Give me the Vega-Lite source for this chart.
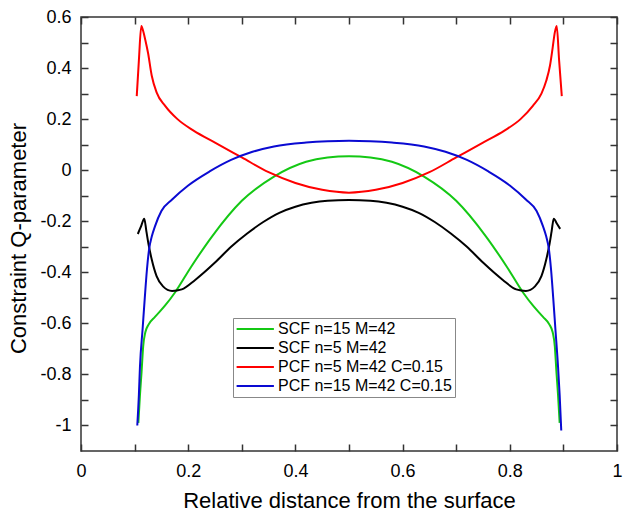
{
  "$schema": "https://vega.github.io/schema/vega-lite/v6.json",
  "width": 536,
  "height": 434,
  "autosize": {"type": "none"},
  "padding": {"left": 81, "top": 17, "right": 14, "bottom": 60},
  "background": "white",
  "config": {
    "font": "Liberation Sans",
    "view": {"stroke": "#333333", "strokeWidth": 1.5},
    "axis": {
      "grid": false,
      "domain": false,
      "ticks": true,
      "zindex": 1,
      "tickColor": "#333333",
      "tickWidth": 1.5,
      "tickSize": 7,
      "offset": -7,
      "labelFont": "Liberation Sans",
      "labelFontSize": 18,
      "labelColor": "black",
      "titleFont": "Liberation Sans",
      "titleFontSize": 22,
      "titleFontWeight": "normal",
      "titleColor": "black",
      "labelFlush": false,
      "labelOverlap": false
    }
  },
  "data": {
    "values": [
      {"s": "SCF n=15 M=42", "x": 0.107, "y": -0.99},
      {"s": "SCF n=15 M=42", "x": 0.110, "y": -0.88},
      {"s": "SCF n=15 M=42", "x": 0.113, "y": -0.79},
      {"s": "SCF n=15 M=42", "x": 0.116, "y": -0.69},
      {"s": "SCF n=15 M=42", "x": 0.120, "y": -0.635},
      {"s": "SCF n=15 M=42", "x": 0.126, "y": -0.605},
      {"s": "SCF n=15 M=42", "x": 0.138, "y": -0.575},
      {"s": "SCF n=15 M=42", "x": 0.157, "y": -0.53},
      {"s": "SCF n=15 M=42", "x": 0.175, "y": -0.48},
      {"s": "SCF n=15 M=42", "x": 0.205, "y": -0.38},
      {"s": "SCF n=15 M=42", "x": 0.245, "y": -0.258},
      {"s": "SCF n=15 M=42", "x": 0.300, "y": -0.12},
      {"s": "SCF n=15 M=42", "x": 0.360, "y": -0.025},
      {"s": "SCF n=15 M=42", "x": 0.420, "y": 0.033},
      {"s": "SCF n=15 M=42", "x": 0.460, "y": 0.05},
      {"s": "SCF n=15 M=42", "x": 0.500, "y": 0.055},
      {"s": "SCF n=15 M=42", "x": 0.540, "y": 0.05},
      {"s": "SCF n=15 M=42", "x": 0.580, "y": 0.033},
      {"s": "SCF n=15 M=42", "x": 0.640, "y": -0.025},
      {"s": "SCF n=15 M=42", "x": 0.700, "y": -0.12},
      {"s": "SCF n=15 M=42", "x": 0.755, "y": -0.258},
      {"s": "SCF n=15 M=42", "x": 0.795, "y": -0.38},
      {"s": "SCF n=15 M=42", "x": 0.825, "y": -0.48},
      {"s": "SCF n=15 M=42", "x": 0.843, "y": -0.53},
      {"s": "SCF n=15 M=42", "x": 0.862, "y": -0.575},
      {"s": "SCF n=15 M=42", "x": 0.874, "y": -0.605},
      {"s": "SCF n=15 M=42", "x": 0.880, "y": -0.635},
      {"s": "SCF n=15 M=42", "x": 0.884, "y": -0.69},
      {"s": "SCF n=15 M=42", "x": 0.887, "y": -0.79},
      {"s": "SCF n=15 M=42", "x": 0.890, "y": -0.88},
      {"s": "SCF n=15 M=42", "x": 0.893, "y": -0.99},

      {"s": "SCF n=5 M=42", "x": 0.106, "y": -0.25},
      {"s": "SCF n=5 M=42", "x": 0.112, "y": -0.22},
      {"s": "SCF n=5 M=42", "x": 0.118, "y": -0.19},
      {"s": "SCF n=5 M=42", "x": 0.122, "y": -0.24},
      {"s": "SCF n=5 M=42", "x": 0.126, "y": -0.29},
      {"s": "SCF n=5 M=42", "x": 0.132, "y": -0.35},
      {"s": "SCF n=5 M=42", "x": 0.141, "y": -0.415},
      {"s": "SCF n=5 M=42", "x": 0.153, "y": -0.455},
      {"s": "SCF n=5 M=42", "x": 0.170, "y": -0.473},
      {"s": "SCF n=5 M=42", "x": 0.188, "y": -0.467},
      {"s": "SCF n=5 M=42", "x": 0.213, "y": -0.43},
      {"s": "SCF n=5 M=42", "x": 0.250, "y": -0.362},
      {"s": "SCF n=5 M=42", "x": 0.280, "y": -0.30},
      {"s": "SCF n=5 M=42", "x": 0.310, "y": -0.248},
      {"s": "SCF n=5 M=42", "x": 0.340, "y": -0.203},
      {"s": "SCF n=5 M=42", "x": 0.370, "y": -0.167},
      {"s": "SCF n=5 M=42", "x": 0.400, "y": -0.143},
      {"s": "SCF n=5 M=42", "x": 0.430, "y": -0.128},
      {"s": "SCF n=5 M=42", "x": 0.460, "y": -0.12},
      {"s": "SCF n=5 M=42", "x": 0.500, "y": -0.117},
      {"s": "SCF n=5 M=42", "x": 0.540, "y": -0.12},
      {"s": "SCF n=5 M=42", "x": 0.570, "y": -0.128},
      {"s": "SCF n=5 M=42", "x": 0.600, "y": -0.143},
      {"s": "SCF n=5 M=42", "x": 0.630, "y": -0.167},
      {"s": "SCF n=5 M=42", "x": 0.660, "y": -0.203},
      {"s": "SCF n=5 M=42", "x": 0.690, "y": -0.248},
      {"s": "SCF n=5 M=42", "x": 0.720, "y": -0.30},
      {"s": "SCF n=5 M=42", "x": 0.750, "y": -0.362},
      {"s": "SCF n=5 M=42", "x": 0.787, "y": -0.43},
      {"s": "SCF n=5 M=42", "x": 0.812, "y": -0.467},
      {"s": "SCF n=5 M=42", "x": 0.830, "y": -0.473},
      {"s": "SCF n=5 M=42", "x": 0.847, "y": -0.455},
      {"s": "SCF n=5 M=42", "x": 0.859, "y": -0.415},
      {"s": "SCF n=5 M=42", "x": 0.868, "y": -0.35},
      {"s": "SCF n=5 M=42", "x": 0.874, "y": -0.29},
      {"s": "SCF n=5 M=42", "x": 0.878, "y": -0.24},
      {"s": "SCF n=5 M=42", "x": 0.882, "y": -0.19},
      {"s": "SCF n=5 M=42", "x": 0.888, "y": -0.21},
      {"s": "SCF n=5 M=42", "x": 0.894, "y": -0.23},

      {"s": "PCF n=5 M=42 C=0.15", "x": 0.104, "y": 0.29},
      {"s": "PCF n=5 M=42 C=0.15", "x": 0.108, "y": 0.43},
      {"s": "PCF n=5 M=42 C=0.15", "x": 0.1125, "y": 0.565},
      {"s": "PCF n=5 M=42 C=0.15", "x": 0.116, "y": 0.545},
      {"s": "PCF n=5 M=42 C=0.15", "x": 0.120, "y": 0.51},
      {"s": "PCF n=5 M=42 C=0.15", "x": 0.125, "y": 0.46},
      {"s": "PCF n=5 M=42 C=0.15", "x": 0.132, "y": 0.37},
      {"s": "PCF n=5 M=42 C=0.15", "x": 0.141, "y": 0.305},
      {"s": "PCF n=5 M=42 C=0.15", "x": 0.157, "y": 0.252},
      {"s": "PCF n=5 M=42 C=0.15", "x": 0.180, "y": 0.2},
      {"s": "PCF n=5 M=42 C=0.15", "x": 0.210, "y": 0.155},
      {"s": "PCF n=5 M=42 C=0.15", "x": 0.250, "y": 0.108},
      {"s": "PCF n=5 M=42 C=0.15", "x": 0.300, "y": 0.05},
      {"s": "PCF n=5 M=42 C=0.15", "x": 0.350, "y": -0.008},
      {"s": "PCF n=5 M=42 C=0.15", "x": 0.400, "y": -0.05},
      {"s": "PCF n=5 M=42 C=0.15", "x": 0.450, "y": -0.077},
      {"s": "PCF n=5 M=42 C=0.15", "x": 0.500, "y": -0.088},
      {"s": "PCF n=5 M=42 C=0.15", "x": 0.550, "y": -0.077},
      {"s": "PCF n=5 M=42 C=0.15", "x": 0.600, "y": -0.05},
      {"s": "PCF n=5 M=42 C=0.15", "x": 0.650, "y": -0.008},
      {"s": "PCF n=5 M=42 C=0.15", "x": 0.700, "y": 0.05},
      {"s": "PCF n=5 M=42 C=0.15", "x": 0.750, "y": 0.108},
      {"s": "PCF n=5 M=42 C=0.15", "x": 0.790, "y": 0.155},
      {"s": "PCF n=5 M=42 C=0.15", "x": 0.820, "y": 0.2},
      {"s": "PCF n=5 M=42 C=0.15", "x": 0.843, "y": 0.252},
      {"s": "PCF n=5 M=42 C=0.15", "x": 0.859, "y": 0.30},
      {"s": "PCF n=5 M=42 C=0.15", "x": 0.868, "y": 0.35},
      {"s": "PCF n=5 M=42 C=0.15", "x": 0.875, "y": 0.41},
      {"s": "PCF n=5 M=42 C=0.15", "x": 0.880, "y": 0.48},
      {"s": "PCF n=5 M=42 C=0.15", "x": 0.884, "y": 0.54},
      {"s": "PCF n=5 M=42 C=0.15", "x": 0.8875, "y": 0.565},
      {"s": "PCF n=5 M=42 C=0.15", "x": 0.892, "y": 0.43},
      {"s": "PCF n=5 M=42 C=0.15", "x": 0.897, "y": 0.29},

      {"s": "PCF n=15 M=42 C=0.15", "x": 0.105, "y": -1.0},
      {"s": "PCF n=15 M=42 C=0.15", "x": 0.108, "y": -0.88},
      {"s": "PCF n=15 M=42 C=0.15", "x": 0.110, "y": -0.77},
      {"s": "PCF n=15 M=42 C=0.15", "x": 0.115, "y": -0.62},
      {"s": "PCF n=15 M=42 C=0.15", "x": 0.119, "y": -0.5},
      {"s": "PCF n=15 M=42 C=0.15", "x": 0.123, "y": -0.39},
      {"s": "PCF n=15 M=42 C=0.15", "x": 0.127, "y": -0.31},
      {"s": "PCF n=15 M=42 C=0.15", "x": 0.132, "y": -0.26},
      {"s": "PCF n=15 M=42 C=0.15", "x": 0.138, "y": -0.22},
      {"s": "PCF n=15 M=42 C=0.15", "x": 0.150, "y": -0.16},
      {"s": "PCF n=15 M=42 C=0.15", "x": 0.170, "y": -0.115},
      {"s": "PCF n=15 M=42 C=0.15", "x": 0.200, "y": -0.06},
      {"s": "PCF n=15 M=42 C=0.15", "x": 0.240, "y": -0.005},
      {"s": "PCF n=15 M=42 C=0.15", "x": 0.280, "y": 0.04},
      {"s": "PCF n=15 M=42 C=0.15", "x": 0.320, "y": 0.072},
      {"s": "PCF n=15 M=42 C=0.15", "x": 0.360, "y": 0.093},
      {"s": "PCF n=15 M=42 C=0.15", "x": 0.420, "y": 0.108},
      {"s": "PCF n=15 M=42 C=0.15", "x": 0.460, "y": 0.113},
      {"s": "PCF n=15 M=42 C=0.15", "x": 0.500, "y": 0.115},
      {"s": "PCF n=15 M=42 C=0.15", "x": 0.540, "y": 0.113},
      {"s": "PCF n=15 M=42 C=0.15", "x": 0.580, "y": 0.108},
      {"s": "PCF n=15 M=42 C=0.15", "x": 0.640, "y": 0.093},
      {"s": "PCF n=15 M=42 C=0.15", "x": 0.680, "y": 0.072},
      {"s": "PCF n=15 M=42 C=0.15", "x": 0.720, "y": 0.04},
      {"s": "PCF n=15 M=42 C=0.15", "x": 0.760, "y": -0.005},
      {"s": "PCF n=15 M=42 C=0.15", "x": 0.800, "y": -0.06},
      {"s": "PCF n=15 M=42 C=0.15", "x": 0.830, "y": -0.115},
      {"s": "PCF n=15 M=42 C=0.15", "x": 0.850, "y": -0.16},
      {"s": "PCF n=15 M=42 C=0.15", "x": 0.862, "y": -0.22},
      {"s": "PCF n=15 M=42 C=0.15", "x": 0.868, "y": -0.26},
      {"s": "PCF n=15 M=42 C=0.15", "x": 0.873, "y": -0.31},
      {"s": "PCF n=15 M=42 C=0.15", "x": 0.877, "y": -0.39},
      {"s": "PCF n=15 M=42 C=0.15", "x": 0.881, "y": -0.5},
      {"s": "PCF n=15 M=42 C=0.15", "x": 0.885, "y": -0.62},
      {"s": "PCF n=15 M=42 C=0.15", "x": 0.890, "y": -0.77},
      {"s": "PCF n=15 M=42 C=0.15", "x": 0.893, "y": -0.88},
      {"s": "PCF n=15 M=42 C=0.15", "x": 0.896, "y": -1.02}
    ]
  },
  "layer": [
    {
      "mark": {"type": "line", "strokeWidth": 2, "interpolate": "monotone", "clip": true},
      "encoding": {
        "x": {
          "field": "x", "type": "quantitative",
          "scale": {"domain": [0, 1], "nice": false, "zero": false},
          "axis": {
            "orient": "bottom",
            "title": "Relative distance from the surface",
            "values": [0, 0.1, 0.2, 0.3, 0.4, 0.5, 0.6, 0.7, 0.8, 0.9, 1],
            "labelExpr": "abs(datum.value*5 - round(datum.value*5)) < 0.01 ? '' + datum.value : ''",
            "labelPadding": 11,
            "titlePadding": 10
          }
        },
        "y": {
          "field": "y", "type": "quantitative",
          "scale": {"domain": [-1.1, 0.6], "nice": false, "zero": false},
          "axis": {
            "orient": "left",
            "title": "Constraint Q-parameter",
            "values": [-1.0, -0.9, -0.8, -0.7, -0.6, -0.5, -0.4, -0.3, -0.2, -0.1, 0, 0.1, 0.2, 0.3, 0.4, 0.5, 0.6],
            "labelExpr": "abs(datum.value*5 - round(datum.value*5)) < 0.01 ? '' + datum.value : ''",
            "labelPadding": 10,
            "titlePadding": 9,
            "titleY": 221
          }
        },
        "color": {
          "field": "s", "type": "nominal",
          "scale": {
            "domain": ["SCF n=15 M=42", "SCF n=5 M=42", "PCF n=5 M=42 C=0.15", "PCF n=15 M=42 C=0.15"],
            "range": ["#14c814", "#000000", "#ff0000", "#0a0ad2"]
          },
          "legend": {
            "orient": "none",
            "legendX": 152,
            "legendY": 301,
            "title": null,
            "symbolType": "M-1.2,0H4.85",
            "symbolSize": 152,
            "symbolStrokeWidth": 2,
            "labelFont": "Liberation Sans",
            "labelFontSize": 16,
            "labelColor": "black",
            "labelOffset": 26,
            "labelLimit": 400,
            "strokeColor": "#888888",
            "fillColor": "white",
            "padding": 3,
            "rowPadding": 3
          }
        }
      }
    },
    {
      "mark": {"type": "line", "opacity": 0},
      "encoding": {
        "x": {
          "field": "x", "type": "quantitative",
          "axis": {
            "orient": "top", "title": null, "labels": false,
            "values": [0, 0.1, 0.2, 0.3, 0.4, 0.5, 0.6, 0.7, 0.8, 0.9, 1]
          }
        },
        "y": {
          "field": "y", "type": "quantitative",
          "axis": {
            "orient": "right", "title": null, "labels": false,
            "values": [-1.0, -0.9, -0.8, -0.7, -0.6, -0.5, -0.4, -0.3, -0.2, -0.1, 0, 0.1, 0.2, 0.3, 0.4, 0.5, 0.6]
          }
        }
      }
    }
  ]
}
